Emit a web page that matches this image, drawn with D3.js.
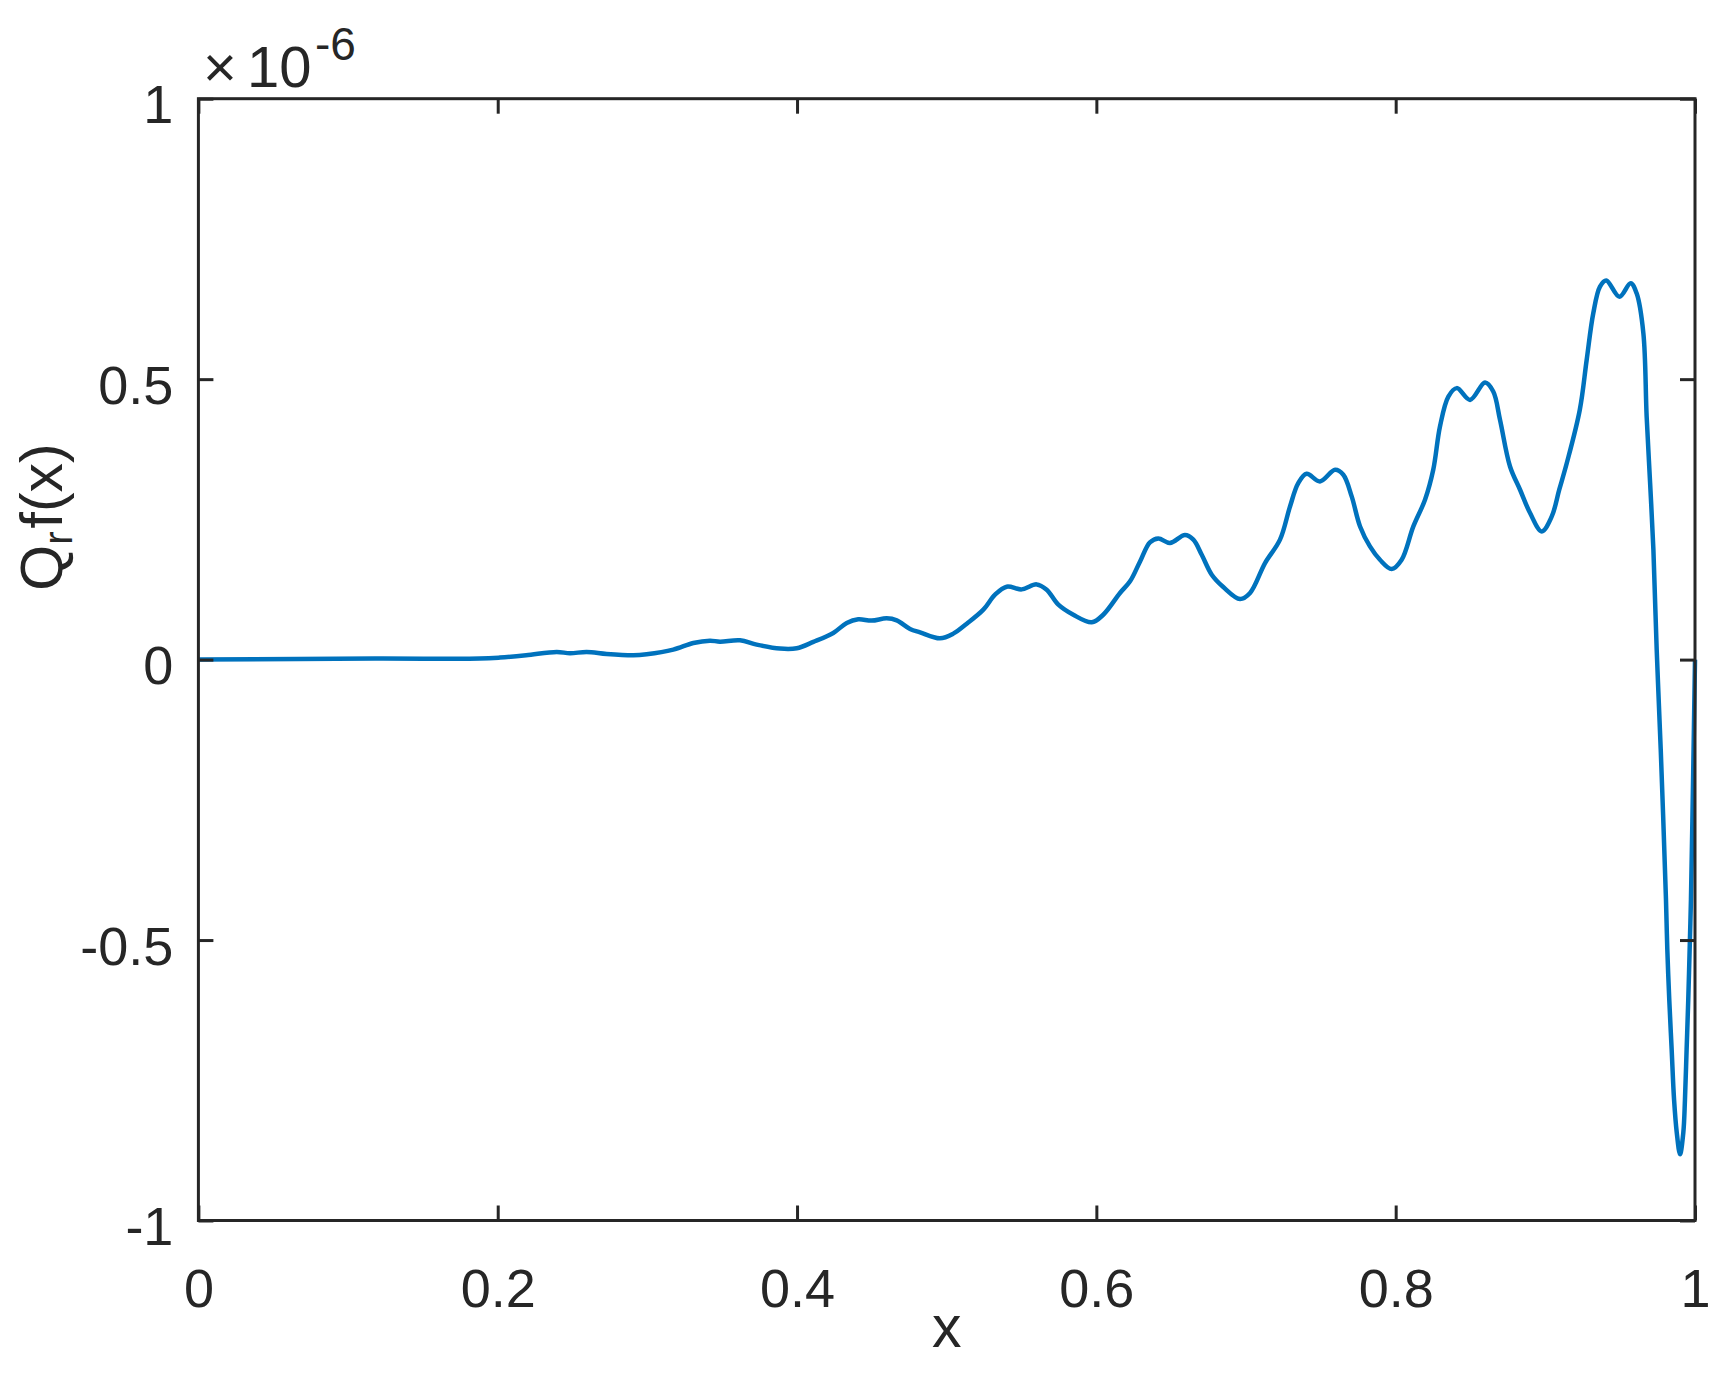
<!DOCTYPE html>
<html>
<head>
<meta charset="utf-8">
<script src="https://cdn.jsdelivr.net/npm/d3@7"></script>
<style>
  body { margin: 0; background: #fff; }
  svg text { font-family: "Liberation Sans", Arial, Helvetica, sans-serif; fill: #262626; }
</style>
</head>
<body>
<svg id="chart" width="1719" height="1373"></svg>
<script>
// values, y in units of 1e-6
var xs = [0, 0.118, 0.188, 0.2015, 0.219, 0.2394, 0.2483, 0.2594, 0.2728, 0.2906, 0.2995,
  0.3173, 0.3307, 0.3418, 0.3485, 0.3619, 0.373, 0.3886, 0.3998, 0.4109, 0.4242, 0.4332,
  0.4409, 0.4499, 0.4599, 0.4666, 0.4755, 0.4822, 0.4955, 0.5044, 0.5134, 0.5245, 0.5323,
  0.5401, 0.5501, 0.5601, 0.5668, 0.5746, 0.5846, 0.5969, 0.6046, 0.6158, 0.6225, 0.6292,
  0.6358, 0.6414, 0.6492, 0.6592, 0.6648, 0.6704, 0.6771, 0.6848, 0.696, 0.7027, 0.7127,
  0.7227, 0.7294, 0.7349, 0.7405, 0.7494, 0.7595, 0.765, 0.7706, 0.7762, 0.7828, 0.7895,
  0.7973, 0.804, 0.8118, 0.8196, 0.8251, 0.8296, 0.8352, 0.8408, 0.8497, 0.8597, 0.8652,
  0.8697, 0.8764, 0.8831, 0.8898, 0.8976, 0.9043, 0.9093, 0.9143, 0.923, 0.9276, 0.932,
  0.9365, 0.9407, 0.9495, 0.957, 0.961, 0.9655, 0.9677, 0.970, 0.9722, 0.9744, 0.9771,
  0.9806, 0.9815, 0.9828, 0.9844, 0.986, 0.9878, 0.990, 0.9922, 0.9933, 0.9944, 0.9955,
  0.9966, 0.9973, 0.9988, 1.0];
var ys = [0, 0.0018, 0.0018, 0.0036, 0.0077, 0.0137, 0.0113, 0.0137, 0.0101, 0.0077, 0.0095,
  0.0178, 0.0297, 0.0338, 0.032, 0.0344, 0.0267, 0.0196, 0.0202, 0.0315, 0.0475, 0.0653,
  0.0718, 0.0695, 0.0736, 0.070, 0.0547, 0.0486, 0.0379, 0.0463, 0.0641, 0.0891, 0.1158,
  0.130, 0.1252, 0.1341, 0.1247, 0.098, 0.080, 0.0665, 0.080, 0.1188, 0.1395, 0.175,
  0.209, 0.216, 0.208, 0.222, 0.2138, 0.187, 0.1514, 0.1294, 0.108, 0.1188, 0.172,
  0.2138, 0.273, 0.3147, 0.3313, 0.3176, 0.3384, 0.3295, 0.291, 0.2374, 0.2018, 0.178,
  0.1615, 0.178, 0.2374, 0.285, 0.3384, 0.4156, 0.469, 0.484, 0.463, 0.494, 0.478,
  0.4275, 0.3443, 0.3028, 0.2613, 0.2286, 0.2553, 0.303, 0.350, 0.445, 0.534, 0.617,
  0.665, 0.676, 0.647, 0.671, 0.653, 0.582, 0.433, 0.315, 0.196, 0.018, -0.160,
  -0.4275, -0.5166, -0.606, -0.695, -0.784, -0.843, -0.882, -0.843, -0.784, -0.695, -0.606,
  -0.499, -0.4275, -0.2, 0];
var xTicks = [0, 0.2, 0.4, 0.6, 0.8, 1];
var yTicks = [-1, -0.5, 0, 0.5, 1];

var data = xs.map(function (d, i) { return { x: d, y: ys[i] }; });

var svg = d3.select("#chart"),
  margin = { top: 98.7, right: 24, bottom: 152.5, left: 198.4 },
  width = 1719 - margin.left - margin.right,
  height = 1373 - margin.top - margin.bottom,
  g = svg.append("g").attr("transform", "translate(" + margin.left + "," + margin.top + ")");

var x = d3.scaleLinear().domain([0, 1]).range([0, width]);
var y = d3.scaleLinear().domain([-1, 1]).range([height, 0]);

var axisColor = "#262626";
var tickLen = 15;

// the curve
var line = d3.line()
  .x(function (d) { return x(d.x); })
  .y(function (d) { return y(d.y); })
  .curve(d3.curveCatmullRom.alpha(0.5));

g.append("path")
  .datum(data)
  .attr("fill", "none")
  .attr("stroke", "#0072BD")
  .attr("stroke-width", 4.5)
  .attr("stroke-linejoin", "round")
  .attr("d", line);

// plain hyphen for negatives, like the original
var fmt = function (d) { return String(d); };

// bottom axis, ticks inward
var xb = g.append("g")
  .attr("transform", "translate(0," + height + ")")
  .call(d3.axisBottom(x).tickValues(xTicks).tickSize(-tickLen).tickSizeOuter(0).tickFormat(fmt));
xb.selectAll("text").attr("y", 86.5).attr("dy", 0).style("font-size", "54px");

// top axis, ticks only
var xt = g.append("g")
  .call(d3.axisTop(x).tickValues(xTicks).tickSize(-tickLen).tickSizeOuter(0).tickFormat(""));

// left axis
var yl = g.append("g")
  .call(d3.axisLeft(y).tickValues(yTicks).tickSize(-tickLen).tickSizeOuter(0).tickFormat(fmt));
yl.selectAll("text").attr("x", -25).attr("dy", 24).style("font-size", "54px");

// right axis, ticks only
var yr = g.append("g")
  .attr("transform", "translate(" + width + ",0)")
  .call(d3.axisRight(y).tickValues(yTicks).tickSize(-tickLen).tickSizeOuter(0).tickFormat(""));

[xb, xt, yl, yr].forEach(function (a) {
  a.selectAll(".tick line").attr("stroke", axisColor).attr("stroke-width", 3);
  a.select(".domain").remove();
  a.selectAll("text").attr("fill", axisColor).style("font-family", null);
});

// box
g.append("rect")
  .attr("width", width)
  .attr("height", height)
  .attr("fill", "none")
  .attr("stroke", axisColor)
  .attr("stroke-width", 3);

// axis labels
svg.append("text")
  .attr("x", margin.left + width / 2)
  .attr("y", 1347)
  .attr("text-anchor", "middle")
  .style("font-size", "59px")
  .text("x");

var yLab = svg.append("text")
  .attr("transform", "translate(62,517) rotate(-90)")
  .attr("text-anchor", "middle")
  .style("font-size", "59px");
yLab.append("tspan").text("Q");
yLab.append("tspan").attr("dy", 10).style("font-size", "40px").text("r");
yLab.append("tspan").attr("dy", -10).attr("dx", 3).text("f(x)");

// exponent label
svg.append("text").attr("x", 203).attr("y", 87).style("font-size", "58px").text("\u00d7");
svg.append("text").attr("x", 247).attr("y", 87).style("font-size", "58px").text("10");
svg.append("text").attr("x", 315).attr("y", 60).style("font-size", "46px").text("-6");
</script>
</body>
</html>
